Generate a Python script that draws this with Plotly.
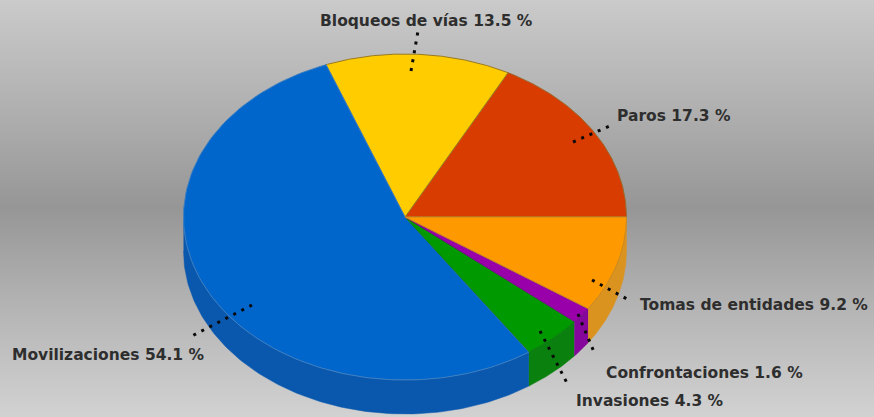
import numpy as np
import plotly.graph_objects as go

# Share of each type of action, counter-clockwise from three o'clock
categories = ["Paros", "Bloqueos de vías", "Movilizaciones", "Invasiones", "Confrontaciones", "Tomas de entidades"]
shares = [17.3, 13.5, 54.1, 4.3, 1.6, 9.2]
top_colors = ["#D83C00", "#FFCC00", "#0066CC", "#009900", "#9900AA", "#FF9900"]
side_colors = ["#A82E00", "#C9A000", "#0A58AE", "#0A800F", "#85069A", "#DB9320"]
edge_colors = ["#9A6A30", "#9A7A20", "#3F7FC0", "#0B7F10", "#7A0A8A", "#C98A20"]

# Label text, left edge and vertical centre in the 874x417 frame
label_x = [615, 318, 10, 574, 604, 638]
label_y = [116, 21, 355, 401, 373, 305]

# Leader lines: start and end for each label
leader_x = [[573, 612], [411, 418], [252, 190], [540, 567], [578, 594], [592, 627]]
leader_y = [[142, 125], [71, 31], [305, 337], [331, 383], [314, 352], [280, 299]]

# Backdrop grey levels down the frame
backdrop_y = [0, 100, 207, 300, 417]
backdrop_level = [202, 178, 150, 178, 210]

# Projection of the disc
CX, CY, RX, RY, DEPTH = 405, 217, 221.5, 163, 34
NEAR_STRETCH = 2.0  # degrees of foreshortening on the near half

W, H = 874, 417
fig = go.Figure()

fig.add_trace(go.Heatmap(
    x=[0, W], y=backdrop_y,
    z=[[v, v] for v in backdrop_level],
    zmin=0, zmax=255, zsmooth="best",
    colorscale=[[0, "#000000"], [1, "#FFFFFF"]],
    showscale=False, hoverinfo="skip",
))


def arc(a0, a1, n=120):
    deg = np.linspace(a0, a1, n)
    deg = deg + NEAR_STRETCH * np.minimum(np.sin(np.radians(deg)), 0)
    t = np.radians(deg)
    return CX + RX * np.cos(t), CY - RY * np.sin(t)


edges = np.concatenate([[0], np.cumsum(shares)]) * 3.6

# Side wall: only the near half of the disc shows it
for i in range(len(shares)):
    a0, a1 = max(edges[i], 180), max(edges[i + 1], 180)
    if a1 <= a0:
        continue
    x, y = arc(a0, a1)
    fig.add_trace(go.Scatter(
        x=np.concatenate([x, x[::-1]]),
        y=np.concatenate([y, y[::-1] + DEPTH]),
        mode="lines", fill="toself", fillcolor=side_colors[i],
        line=dict(width=0.5, color=side_colors[i]), hoverinfo="skip",
    ))

# Top face
for i in range(len(shares)):
    x, y = arc(edges[i], edges[i + 1])
    fig.add_trace(go.Scatter(
        x=np.concatenate([[CX], x, [CX]]),
        y=np.concatenate([[CY], y, [CY]]),
        mode="lines", fill="toself", fillcolor=top_colors[i],
        line=dict(width=1, color=edge_colors[i]), hoverinfo="skip",
    ))

# Dotted leaders
for lx, ly in zip(leader_x, leader_y):
    fig.add_trace(go.Scatter(
        x=lx, y=ly, mode="lines",
        line=dict(color="#0A0A0A", width=3, dash="3px,6px"), hoverinfo="skip",
    ))

for name, share, x, y in zip(categories, shares, label_x, label_y):
    fig.add_annotation(
        x=x, y=y, text=f"{name} {share} %", showarrow=False,
        xanchor="left", yanchor="middle",
        font=dict(family="DejaVu Sans", size=15.5, color="#2E2E2E", weight=700),
    )

fig.update_layout(
    width=W, height=H, margin=dict(l=0, r=0, t=0, b=0),
    showlegend=False, paper_bgcolor="#AAAAAA", plot_bgcolor="rgba(0,0,0,0)",
    xaxis=dict(range=[0, W], visible=False, fixedrange=True),
    yaxis=dict(range=[H, 0], visible=False, fixedrange=True),
)
fig.write_html("out.html", config={"displayModeBar": False})
